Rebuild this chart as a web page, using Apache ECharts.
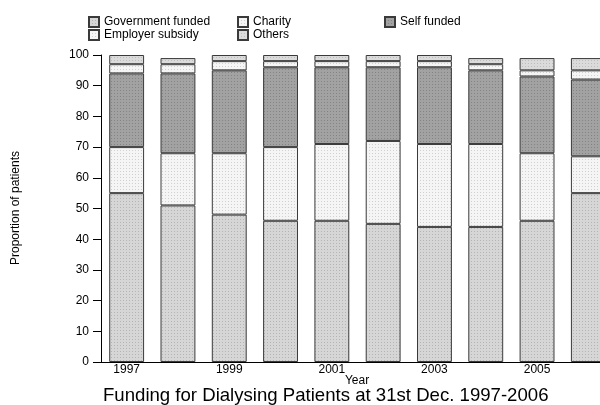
<!DOCTYPE html>
<html>
<head>
<meta charset="utf-8">
<script src="https://cdn.jsdelivr.net/npm/echarts@6/dist/echarts.min.js"></script>
<style>
  html, body { margin: 0; padding: 0; background: #fff; }
  #chart { width: 600px; height: 405px; }
</style>
</head>
<body>
<div id="chart"></div>
<script>
// data (percent of patients)
const years = ['1997', '1998', '1999', '2000', '2001', '2002', '2003', '2004', '2005', '2006'];
const govFunded = [55, 51, 48, 46, 46, 45, 44, 44, 46, 55];
const employerSubsidy = [15, 17, 20, 24, 25, 27, 27, 27, 22, 12];
const selfFunded = [24, 26, 27, 26, 25, 24, 25, 24, 25, 25];
const charity = [3, 3, 3, 2, 2, 2, 2, 2, 2, 3];
const others = [3, 2, 2, 2, 2, 2, 2, 2, 4, 4];
const yTicks = [0, 10, 20, 30, 40, 50, 60, 70, 80, 90, 100];

const FONT = '"Liberation Sans", Arial, sans-serif';

// small dotted fill like the printed shading
function pat(base, dot) {
  const c = document.createElement('canvas');
  c.width = 3; c.height = 3;
  const g = c.getContext('2d');
  g.fillStyle = base; g.fillRect(0, 0, 3, 3);
  g.fillStyle = dot; g.fillRect(0, 0, 1, 1);
  return { image: c, repeat: 'repeat' };
}

const fills = {
  'Government funded': pat('#d6d6d6', '#b4b4b4'),
  'Employer subsidy': pat('#f5f5f5', '#d0d0d0'),
  'Self funded': pat('#a2a2a2', '#848484'),
  'Charity': pat('#f5f5f5', '#d0d0d0'),
  'Others': pat('#dbdbdb', '#bcbcbc')
};

function bar(name, data) {
  return {
    name: name,
    type: 'bar',
    stack: 'all',
    data: data,
    barWidth: '68%',
    itemStyle: { color: fills[name], borderColor: '#3a3a3a', borderWidth: 1 },
    emphasis: { disabled: true }
  };
}

function legendAt(name, left, top) {
  return {
    data: [name],
    left: left, top: top,
    padding: 0,
    itemWidth: 10, itemHeight: 10,
    icon: 'rect',
    selectedMode: false,
    textStyle: { fontFamily: FONT, fontSize: 12, color: '#000' }
  };
}

const chart = echarts.init(document.getElementById('chart'));
chart.setOption({
  animation: false,
  backgroundColor: '#fff',
  legend: [
    legendAt('Government funded', 88, 16),
    legendAt('Charity', 237, 16),
    legendAt('Self funded', 384, 16),
    legendAt('Employer subsidy', 88, 29),
    legendAt('Others', 237, 29)
  ],
  grid: { left: 101, top: 55, width: 513, height: 307, outerBoundsMode: 'none', containLabel: false },
  xAxis: {
    type: 'category',
    data: years,
    axisLine: { lineStyle: { color: '#000', width: 1 } },
    axisTick: { show: false },
    axisLabel: { interval: 1, margin: 2, fontFamily: FONT, fontSize: 12, color: '#000' }
  },
  yAxis: {
    type: 'value',
    min: yTicks[0],
    max: yTicks[yTicks.length - 1],
    interval: 10,
    axisLine: { show: true, lineStyle: { color: '#000', width: 1 } },
    axisTick: { show: true, length: 8, lineStyle: { color: '#000' } },
    axisLabel: { margin: 12, fontFamily: FONT, fontSize: 12, color: '#000' },
    splitLine: { show: false }
  },
  graphic: [
    {
      type: 'text',
      x: 357, y: 381,
      style: {
        text: 'Year', font: '12px ' + FONT, fill: '#000',
        align: 'center', verticalAlign: 'middle'
      }
    },
    {
      type: 'text',
      x: 16, y: 208, rotation: Math.PI / 2,
      style: {
        text: 'Proportion of patients', font: '12px ' + FONT, fill: '#000',
        align: 'center', verticalAlign: 'middle'
      }
    },
    {
      type: 'text',
      left: 103, top: 386,
      style: {
        text: 'Funding for Dialysing Patients at 31st Dec. 1997-2006',
        font: '18.6px ' + FONT,
        fill: '#000'
      }
    }
  ],
  series: [
    bar('Government funded', govFunded),
    bar('Employer subsidy', employerSubsidy),
    bar('Self funded', selfFunded),
    bar('Charity', charity),
    bar('Others', others)
  ]
});
</script>
</body>
</html>
